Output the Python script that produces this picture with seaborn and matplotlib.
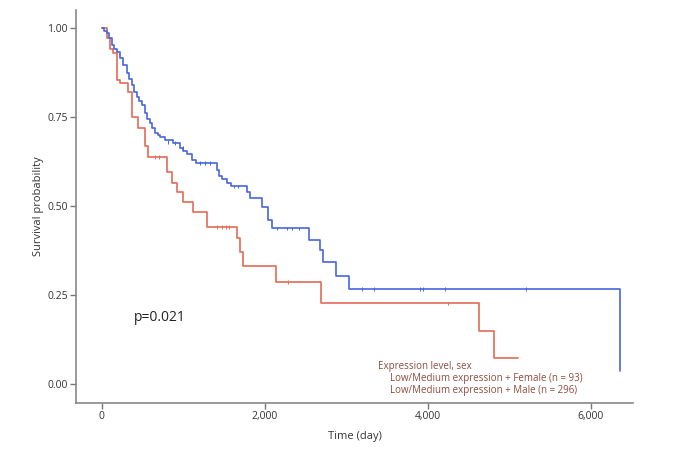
import pandas as pd
import numpy as np
import matplotlib
matplotlib.use("Agg")
import matplotlib.pyplot as plt
import seaborn as sns

# 女性组 (n=93) KM 曲线的阶梯点：时间 / 生存概率
female_time = [0, 61, 102, 142, 184, 225, 326, 368, 449, 531, 572, 798, 859, 920,
               1001, 1124, 1288, 1656, 1700, 1730, 2139, 2691, 4633, 4817, 5112]
female_surv = [1.0, 0.97, 0.94, 0.93, 0.854, 0.845, 0.82, 0.75, 0.72, 0.667, 0.638,
               0.595, 0.565, 0.54, 0.51, 0.484, 0.442, 0.409, 0.372, 0.332, 0.287,
               0.227, 0.15, 0.074, 0.074]
female_cens_t = [660, 700, 1420, 1480, 1520, 1560, 2290, 4253]
female_cens_s = [0.638, 0.638, 0.442, 0.442, 0.442, 0.442, 0.287, 0.227]

# 男性组 (n=296)
male_time = [0, 30, 61, 90, 123, 150, 184, 230, 265, 307, 340, 368, 400, 429, 460, 491,
             531, 560, 593, 620, 654, 690, 715, 777, 879, 961, 1000, 1043, 1104, 1157,
             1411, 1440, 1472, 1534, 1587, 1779, 1820, 1963, 2044, 2086, 2547, 2679,
             2712, 2875, 3034, 6360]
male_surv = [1.0, 0.99, 0.985, 0.97, 0.952, 0.94, 0.933, 0.915, 0.896, 0.873, 0.855,
             0.84, 0.82, 0.807, 0.795, 0.784, 0.76, 0.745, 0.732, 0.72, 0.706, 0.698,
             0.693, 0.685, 0.676, 0.662, 0.655, 0.645, 0.629, 0.621, 0.60, 0.585, 0.575,
             0.564, 0.555, 0.54, 0.522, 0.498, 0.461, 0.437, 0.406, 0.376, 0.344, 0.303,
             0.267, 0.037]
male_cens_t = [820, 900, 1000, 1206, 1268, 1329, 1625, 1675, 2147, 2277, 2331, 2424,
               3190, 3345, 3905, 3946, 4212, 5206]
male_cens_s = [0.68, 0.676, 0.662, 0.621, 0.621, 0.621, 0.555, 0.555, 0.437, 0.437,
               0.437, 0.437, 0.267, 0.267, 0.267, 0.267, 0.267, 0.267]

red = "#E36C55"
blue = "#4866DD"

df = pd.concat([
    pd.DataFrame({"time": female_time, "surv": female_surv, "group": "Female"}),
    pd.DataFrame({"time": male_time, "surv": male_surv, "group": "Male"}),
])
cens = pd.concat([
    pd.DataFrame({"time": female_cens_t, "surv": female_cens_s, "group": "Female"}),
    pd.DataFrame({"time": male_cens_t, "surv": male_cens_s, "group": "Male"}),
])

sns.set_style("white")
plt.rcParams['font.family'] = ['Open Sans', 'DejaVu Sans']

fig = plt.figure(figsize=(6.76, 4.5), dpi=100)
ax = fig.add_axes([0.1124, 0.1044, 0.8240, 0.8736])

pal = {"Female": red, "Male": blue}
sns.lineplot(data=df, x="time", y="surv", hue="group", palette=pal,
             drawstyle="steps-post", linewidth=1.2, legend=False, ax=ax,
             estimator=None, sort=False)
sns.scatterplot(data=cens, x="time", y="surv", hue="group", palette=pal,
                marker="|", s=7, linewidth=0.7, legend=False, ax=ax)

ax.set_xlim(-315, 6520)
ax.set_ylim(-0.0525, 1.05)
ax.set_xticks([0, 2000, 4000, 6000])
ax.set_xticklabels(["0", "2,000", "4,000", "6,000"])
ax.set_yticks([0, 0.25, 0.5, 0.75, 1.0])
ax.set_yticklabels(["0.00", "0.25", "0.50", "0.75", "1.00"])
ax.tick_params(axis="both", direction="out", length=4, width=1, color="#777777",
               labelsize=7.5, labelcolor="#333333", pad=2)
ax.tick_params(axis="both", bottom=True, left=True)
ax.set_xlabel("Time (day)", fontsize=8, color="#333333", labelpad=6)
ax.set_ylabel("Survival probability", fontsize=8, color="#333333", labelpad=2)

for side in ["top", "right"]:
    ax.spines[side].set_visible(False)
for side in ["left", "bottom"]:
    ax.spines[side].set_color("#888888")
    ax.spines[side].set_linewidth(1.2)

ax.text(396, 0.188, "p=0.021", fontsize=10, color="#222222", va="center", ha="left")

legend_color = "#8E4B3F"
ax.text(3390, 0.05, "Expression level, sex", fontsize=7, color=legend_color,
        va="center", ha="left")
ax.text(3540, 0.016, "Low/Medium expression + Female (n = 93)", fontsize=7,
        color=legend_color, va="center", ha="left")
ax.text(3540, -0.018, "Low/Medium expression + Male (n = 296)", fontsize=7,
        color=legend_color, va="center", ha="left")

plt.savefig("out.png", dpi=100)
